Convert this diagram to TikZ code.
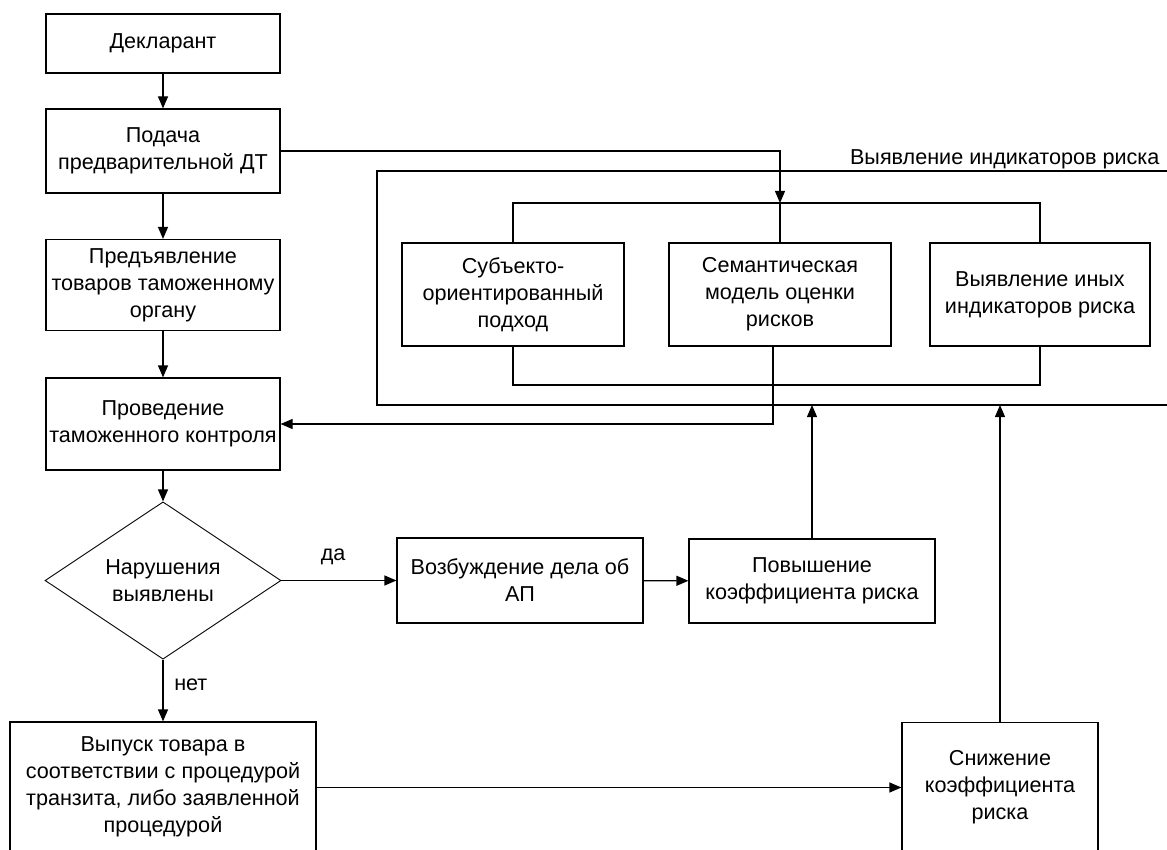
\documentclass[tikz,border=0pt]{standalone}
\usepackage{fontspec}
\setmainfont{Liberation Sans}
\usetikzlibrary{positioning, calc, shapes.geometric, arrows.meta}

\tikzset{
	blok/.style={draw, rectangle, align=center, inner sep=1pt, line width=0.6pt},
	malblok/.style={blok, minimum width=111pt, minimum height=51.5pt},
	romb/.style={draw, diamond, align=center, inner sep=0pt, line width=0.45pt,
		minimum width=118pt, minimum height=77.5pt}
}

\begin{document}
\begin{tikzpicture}[x=0.5pt, y=-0.5pt, >={Triangle[length=6pt, width=5pt]},
					font=\fontsize{10.8}{13.5}\selectfont, line width=0.6pt]
	\clip (0,0) rectangle (1167,850);
	
	% levaja kolonka
	\node[blok, minimum width=117pt, minimum height=29.5pt] (dekl)   at (163,43.5) {Декларант};
	\node[blok, minimum width=117pt, minimum height=42pt]   (podacha) at (163,151) {Подача\\предварительной ДТ};
	\node[blok, minimum width=117pt, minimum height=45.5pt] (predj)  at (163,285) {Предъявление\\товаров таможенному\\органу};
	\node[blok, minimum width=117pt, minimum height=46pt]   (proved) at (163,424) {Проведение\\таможенного контроля};
	\node[romb]                                             (narush) at (163,580.5) {Нарушения\\выявлены};
	\node[blok, minimum width=153pt, minimum height=65pt]   (vypusk) at (163,787) {Выпуск товара в\\соответствии с процедурой\\транзита, либо заявленной\\процедурой};
	
	% pravaja chast
	\node[blok, minimum width=123pt, minimum height=42.5pt] (vozb)   at (520,580.5) {Возбуждение дела об\\АП};
	\node[blok, minimum width=123pt, minimum height=42pt]   (povysh) at (812,581) {Повышение\\коэффициента риска};
	\node[blok, minimum width=98pt, minimum height=65pt]    (snizh)  at (1000,787.5) {Снижение\\коэффициента\\риска};
	
	% vyjavlenie indikatorov riska
	\node[malblok] (subj)   at (513,294.5)  {Субъекто-\\ориентированный\\подход};
	\node[malblok] (sem)    at (780,294.5)  {Семантическая\\модель оценки\\рисков};
	\node[malblok, minimum width=110pt] (vyjav) at (1040,294.5) {Выявление иных\\индикаторов риска};
	
	\coordinate (ramV) at (377,171);
	\coordinate (ramN) at (377,405);
	\draw (1170,171) -- (ramV) -- (ramN) -- (1170,405);
	\node[anchor=base east, inner sep=0pt] (ramtekst) at (1160,165) {Выявление индикаторов риска};
	
	\coordinate (vrh) at (780,203);
	\coordinate (niz) at (780,385);
	\draw (subj.north) |- (vrh) -| (vyjav.north);
	\draw (vrh) -- (sem.north);
	\draw (subj.south) |- (niz) -| (vyjav.south);
	
	%Strelki:
	\draw[->] (dekl) -- (podacha);
	\draw[->] (podacha) -- (predj);
	\draw[->] (predj) -- (proved);
	\draw[->] (proved) -- (narush);
	\draw[->] (podacha.east) -| (vrh);
	\draw[->] ([xshift=-3.5pt]sem.south) |- (proved.east);
	\draw[->] (narush) -- node[above=4pt, pos=0.45] {да} (vozb);
	\draw[->] (narush) -- node[right=2pt, pos=0.4] {нет} (vypusk);
	\draw[->] (vozb) -- (povysh);
	\draw[->] (vypusk.east |- snizh.west) -- (snizh.west);
	\draw[->] (povysh.north) -- (povysh.north |- ramN);
	\draw[->] (snizh.north) -- (snizh.north |- ramN);
\end{tikzpicture}
\end{document}
